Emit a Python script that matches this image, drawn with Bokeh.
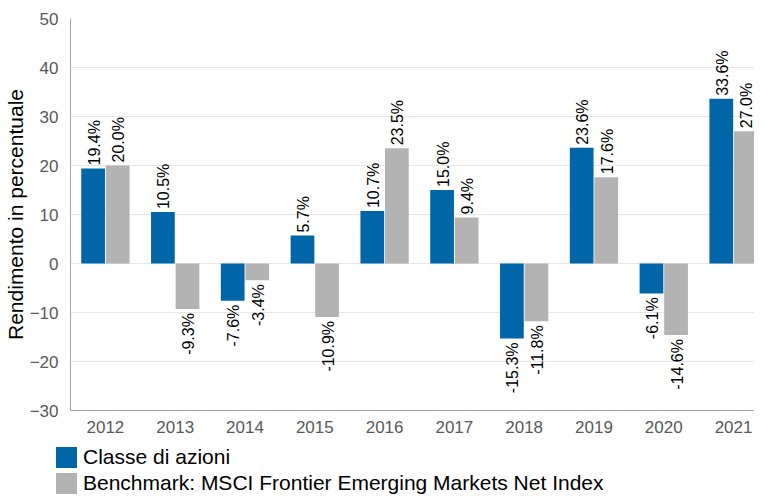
import math
from bokeh.plotting import figure
from bokeh.layouts import column
from bokeh.models import ColumnDataSource, Range1d, FixedTicker, Div
from bokeh.core.properties import value
from bokeh.embed import file_html
from bokeh.resources import INLINE

years = ["2012", "2013", "2014", "2015", "2016", "2017", "2018", "2019", "2020", "2021"]
classe = [19.4, 10.5, -7.6, 5.7, 10.7, 15.0, -15.3, 23.6, -6.1, 33.6]
benchmark = [20.0, -9.3, -3.4, -10.9, 23.5, 9.4, -11.8, 17.6, -14.6, 27.0]
series_names = ["Classe di azioni", "Benchmark: MSCI Frontier Emerging Markets Net Index"]
y_ticks = [-30, -20, -10, 0, 10, 20, 30, 40, 50]

BLUE = "#0066a8"
GRAY = "#b3b3b3"
FONT = "Liberation Sans"

p = figure(width=754, height=440, output_backend="svg", toolbar_location=None,
           x_range=Range1d(-0.5, 9.30), y_range=Range1d(-30, 50),
           min_border_left=63, min_border_top=18, min_border_right=0, min_border_bottom=30)

idx = list(range(len(years)))
dodge = 0.176
bw = 0.34

def make_src(vals, shift):
    xs = [i + shift for i in idx]
    labels = ["%.1f%%" % v for v in vals]
    aligns = ["left" if v >= 0 else "right" for v in vals]
    yoff = [-3 if v >= 0 else 4 for v in vals]
    return ColumnDataSource(dict(x=xs, top=vals, label=labels, align=aligns, yoff=yoff))

src_a = make_src(classe, -dodge)
src_b = make_src(benchmark, dodge)

p.vbar(x="x", top="top", bottom=0, width=bw, source=src_a, fill_color=BLUE, line_color=None)
p.vbar(x="x", top="top", bottom=0, width=bw, source=src_b, fill_color=GRAY, line_color=None)

for src in (src_a, src_b):
    p.text(x="x", y="top", text="label", source=src, angle=math.pi / 2,
           text_align="align", text_baseline="middle", x_offset=1, y_offset="yoff",
           text_font=value(FONT), text_font_size="16px", text_color="#000000")

# axes
p.xaxis.ticker = FixedTicker(ticks=idx)
p.xaxis.major_label_overrides = {i: y for i, y in enumerate(years)}
p.yaxis.ticker = FixedTicker(ticks=y_ticks)
for ax in (p.xaxis[0], p.yaxis[0]):
    ax.major_tick_line_color = None
    ax.minor_tick_line_color = None
    ax.axis_line_color = "#a6a6a6"
    ax.major_label_text_font = FONT
    ax.major_label_text_font_size = "17px"
    ax.major_label_text_color = "#595959"
p.xaxis.major_label_standoff = 4
p.yaxis.major_label_standoff = 6
p.yaxis.axis_label = "Rendimento in percentuale"
p.yaxis.axis_label_text_font = FONT
p.yaxis.axis_label_text_font_size = "21px"
p.yaxis.axis_label_text_font_style = "normal"
p.yaxis.axis_label_text_color = "#000000"
p.yaxis.axis_label_standoff = 0

p.xgrid.grid_line_color = None
p.ygrid.grid_line_color = "#e6e6e6"
p.ygrid.grid_line_width = 1
p.outline_line_color = None

# legend below the chart, as an HTML block starting at the page's left edge
row_tpl = ('<div style="height:26px;display:flex;align-items:center;white-space:nowrap;">'
           '<span style="display:inline-block;width:21px;height:21px;background:{c};'
           'margin-right:6px;flex:none;"></span>{t}</div>')
legend_html = ('<div style="font-family:\'Liberation Sans\';font-size:21px;color:#000000;'
               'line-height:26px;margin:0;padding:4px 0 0 56px;">'
               + row_tpl.format(c=BLUE, t=series_names[0])
               + row_tpl.format(c=GRAY, t=series_names[1])
               + '</div>')
legend_div = Div(text=legend_html, width=754, height=56,
                 styles={"margin": "0", "padding": "0"})

layout = column(p, legend_div, spacing=0)

with open("out.html", "w") as f:
    f.write(file_html(layout, INLINE))
